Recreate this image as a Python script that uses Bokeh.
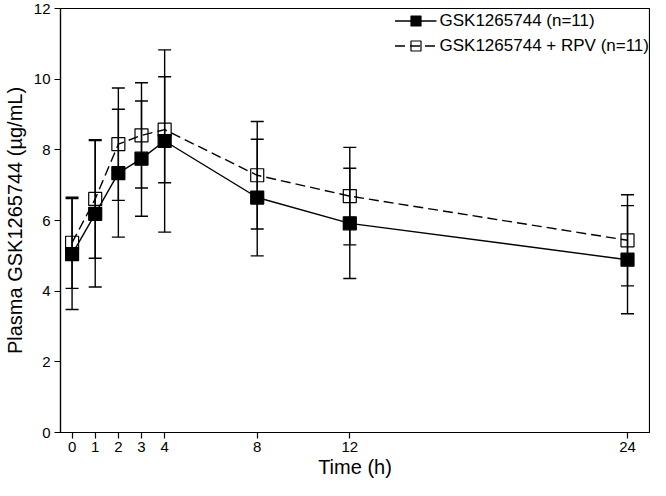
from bokeh.plotting import figure
from bokeh.models import (Range1d, FixedTicker, Whisker, TeeHead, ColumnDataSource,
                          Legend, LegendItem)
from bokeh.embed import file_html
from bokeh.resources import INLINE

# Data
times = [0, 1, 2, 3, 4, 8, 12, 24]
alone_mean = [5.05, 6.19, 7.34, 7.75, 8.25, 6.65, 5.92, 4.89]
alone_sd = [1.57, 2.07, 1.81, 1.63, 2.58, 1.65, 1.56, 1.53]
rpv_mean = [5.37, 6.61, 8.16, 8.41, 8.57, 7.28, 6.69, 5.44]
rpv_sd = [1.29, 1.68, 1.59, 1.49, 1.50, 1.52, 1.38, 1.29]
x_ticks = [0, 1, 2, 3, 4, 8, 12, 24]
y_ticks = [0, 2, 4, 6, 8, 10, 12]
label_alone = "GSK1265744 (n=11)"
label_rpv = "GSK1265744 + RPV (n=11)"

FONT = "Liberation Sans"

src_a = ColumnDataSource(dict(
    x=times, y=alone_mean,
    upper=[m + s for m, s in zip(alone_mean, alone_sd)],
    lower=[m - s for m, s in zip(alone_mean, alone_sd)]))
src_r = ColumnDataSource(dict(
    x=times, y=rpv_mean,
    upper=[m + s for m, s in zip(rpv_mean, rpv_sd)],
    lower=[m - s for m, s in zip(rpv_mean, rpv_sd)]))

p = figure(width=650, height=480, output_backend="svg", toolbar_location=None,
           x_range=Range1d(-0.5, 24.95), y_range=Range1d(0, 12),
           min_border_left=10, min_border_right=1, min_border_top=8,
           min_border_bottom=10)

p.xgrid.visible = False
p.ygrid.visible = False
p.outline_line_color = "black"
p.outline_line_width = 1.2
p.background_fill_color = "white"
p.border_fill_color = "white"

for ax in (p.xaxis[0], p.yaxis[0]):
    ax.major_label_text_font = FONT
    ax.major_label_text_font_size = "15px"
    ax.major_label_text_color = "black"
    ax.axis_label_text_font = FONT
    ax.axis_label_text_font_size = "20px"
    ax.axis_label_text_font_style = "normal"
    ax.axis_label_text_color = "black"
    ax.axis_line_color = "black"
    ax.axis_line_width = 1.2
    ax.major_tick_line_color = "black"
    ax.major_tick_line_width = 1.2
    ax.major_tick_in = 0
    ax.major_tick_out = 6
    ax.minor_tick_line_color = None

p.xaxis.ticker = FixedTicker(ticks=x_ticks)
p.yaxis.ticker = FixedTicker(ticks=y_ticks)
p.xaxis.axis_label = "Time (h)"
p.yaxis.axis_label = "Plasma GSK1265744 (µg/mL)"
p.xaxis.major_label_standoff = 3
p.yaxis.major_label_standoff = 4
p.xaxis.axis_label_standoff = 1
p.yaxis.axis_label_standoff = 5

# error bars
for src in (src_a, src_r):
    w = Whisker(source=src, base="x", upper="upper", lower="lower",
                line_color="black", line_width=1.4,
                upper_head=TeeHead(size=13, line_color="black", line_width=1.4),
                lower_head=TeeHead(size=13, line_color="black", line_width=1.4))
    p.add_layout(w)

la = p.line("x", "y", source=src_a, line_color="black", line_width=1.4)
lr = p.line("x", "y", source=src_r, line_color="black", line_width=1.4,
            line_dash="10 5")
sa = p.scatter("x", "y", source=src_a, marker="square", size=13,
               fill_color="black", line_color="black", line_width=1.2)
sr = p.scatter("x", "y", source=src_r, marker="square", size=13,
               fill_color=None, line_color="black", line_width=1.2)

legend = Legend(items=[LegendItem(label=label_alone, renderers=[la, sa]),
                       LegendItem(label=label_rpv, renderers=[lr, sr])],
                location="top_right")
legend.label_text_font = FONT
legend.label_text_font_size = "17px"
legend.label_text_color = "black"
legend.glyph_width = 42
legend.glyph_height = 25
legend.label_standoff = 3
legend.spacing = 0
legend.padding = 1
legend.margin = 0
legend.border_line_color = None
legend.background_fill_alpha = 0
p.add_layout(legend)

open("out.html", "w").write(file_html(p, INLINE))
